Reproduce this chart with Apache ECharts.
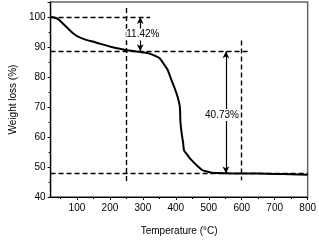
<!DOCTYPE html>
<html><head><meta charset="utf-8">
<script src="https://cdn.jsdelivr.net/npm/echarts@6/dist/echarts.min.js"></script>
<style>html,body{margin:0;padding:0;background:#fff}#c{width:319px;height:241px}</style>
</head><body><div id="c"></div>
<script>
var temperature = [22,40,50,65,80,95,110,130,155,180,205,230,250,275,300,320,336,350,365,375,385,395,405,412,414,418,422,425,432,441,452,465,480,495,510,530,560,600,650,700,750,800];
var weight = [100,99.5,98.6,97,95.4,94,93.1,92.3,91.6,90.8,90,89.4,88.9,88.6,88.2,87.8,87.1,86.3,84.1,82.4,79.5,76.7,73.5,70.2,65,61,58.2,55.5,54.5,53.1,51.8,50.4,49,48.5,48.1,48,47.9,47.85,47.8,47.7,47.6,47.4];
var xMajorTicks = [100,200,300,400,500,600,700,800];
var xMinorTicks = [50,150,250,350,450,550,650,750];
var levels = [100, 88.58, 47.85];
var markTemps = [250, 600];
var labels = ['11.42%', '40.73%'];
var arrowTemps = [292, 552];

var font = 'Liberation Sans, Arial, sans-serif';
var chart = echarts.init(document.getElementById('c'), null, {renderer: 'canvas'});
var data = temperature.map(function (t, i) { return [t, weight[i]]; });
var dl = {color: '#000', width: 1.4, type: [5, 3], opacity: 1};
var sl = {color: '#000', width: 1.2, type: 'solid', opacity: 1};
chart.setOption({
  animation: false,
  grid: {left: 37, right: 10, top: 2, bottom: 37, show: true, borderColor: '#666', borderWidth: 1.5},
  xAxis: [{
    type: 'value', min: 20, max: 800,
    name: 'Temperature (°C)', nameLocation: 'middle', nameGap: 29,
    nameTextStyle: {fontFamily: font, fontSize: 10, color: '#000'},
    axisLine: {show: true, lineStyle: {color: '#000', width: 1.2}},
    axisTick: {show: true, length: 3, customValues: xMajorTicks, lineStyle: {color: '#000'}},
    axisLabel: {customValues: xMajorTicks, fontFamily: font, fontSize: 10, color: '#000', margin: 6},
    splitLine: {show: false}
  }, {
    type: 'value', min: 20, max: 800, position: 'bottom',
    axisLine: {show: false},
    axisTick: {show: true, length: 2, customValues: xMinorTicks, lineStyle: {color: '#000'}},
    axisLabel: {show: false}, splitLine: {show: false}
  }],
  yAxis: {
    type: 'value', min: 40, max: 105, interval: 10,
    name: 'Weight loss (%)', nameLocation: 'middle', nameGap: 31,
    nameTextStyle: {fontFamily: font, fontSize: 10, color: '#000'},
    axisLine: {show: true, lineStyle: {color: '#000', width: 1.2}},
    axisTick: {show: true, length: 3, lineStyle: {color: '#000'}},
    minorTick: {show: true, splitNumber: 2, length: 2, lineStyle: {color: '#000'}},
    axisLabel: {fontFamily: font, fontSize: 10, color: '#000', margin: 5, showMaxLabel: false},
    splitLine: {show: false}
  },
  series: [{
    type: 'line', data: data, showSymbol: false, smooth: 0.3, z: 3,
    lineStyle: {color: '#000', width: 2},
    markLine: {
      silent: true, symbol: ['none', 'none'], animation: false,
      label: {show: false},
      lineStyle: dl,
      emphasis: {disabled: true},
      data: [
        [{coord: [20, levels[0]]}, {coord: [322, levels[0]]}],
        [{coord: [20, levels[1]]}, {coord: [625, levels[1]]}],
        [{coord: [20, levels[2]]}, {coord: [800, levels[2]]}],
        [{coord: [markTemps[0], 103]}, {coord: [markTemps[0], 44.5]}],
        [{coord: [markTemps[1], 92.2]}, {coord: [markTemps[1], 45.6]}]
      ]
    }
  }, {
    type: 'line', data: data, showSymbol: false, z: 2,
    lineStyle: {opacity: 0},
    markLine: {
      silent: true, symbol: ['arrow', 'arrow'], symbolSize: [5, 7], animation: false,
      label: {show: false},
      lineStyle: sl,
      emphasis: {disabled: true},
      data: [
        [{coord: [arrowTemps[0], levels[0]]}, {coord: [arrowTemps[0], levels[1]]}],
        [{coord: [arrowTemps[1], levels[1]]}, {coord: [arrowTemps[1], levels[2]]}]
      ]
    },
    markPoint: {
      silent: true, symbol: 'rect', symbolSize: 1, itemStyle: {color: 'rgba(0,0,0,0)'},
      label: {show: true, fontFamily: font, fontSize: 10, color: '#000', formatter: '{b}', backgroundColor: '#fff', padding: [1, 0]},
      data: [
        {name: labels[0], coord: [300, 94.2]},
        {name: labels[1], coord: [540, 67.3]}
      ]
    }
  }]
});
</script></body></html>
